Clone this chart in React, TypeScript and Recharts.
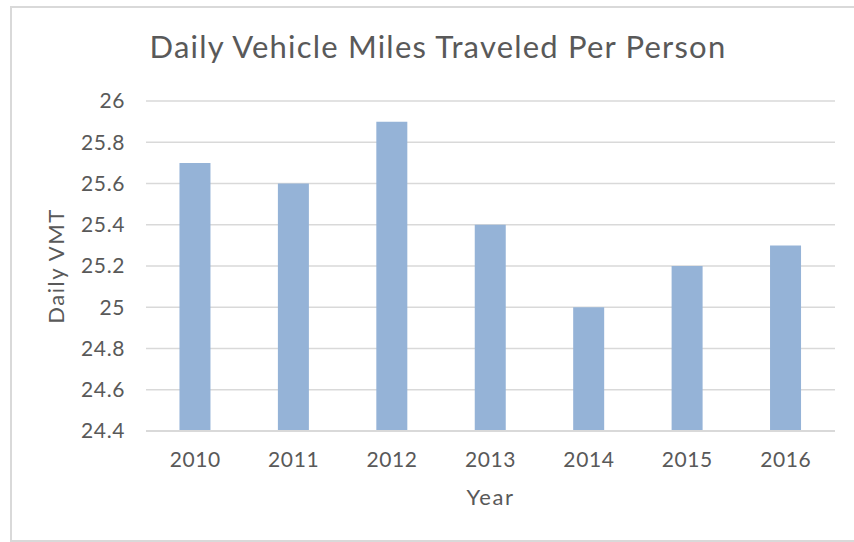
import { BarChart, Bar, XAxis, YAxis, CartesianGrid, Label } from 'recharts'

const years = ['2010', '2011', '2012', '2013', '2014', '2015', '2016']
const dailyVmt = [25.7, 25.6, 25.9, 25.4, 25.0, 25.2, 25.3]
const yTicks = [24.4, 24.6, 24.8, 25, 25.2, 25.4, 25.6, 25.8, 26]

const FONT = 'Lato, "Open Sans", sans-serif'
const TEXT = '#595959'
const GRID = '#d9d9d9'

const data = years.map((y, i) => ({ year: y, vmt: dailyVmt[i] }))

export default function App() {
  return (
    <div style={{ position: 'absolute', left: 0, top: 0, width: 854, height: 542, background: '#fff', overflow: 'hidden' }}>
      <div
        style={{
          position: 'absolute',
          left: 10,
          top: 6,
          width: 900,
          height: 532,
          border: `2px solid ${GRID}`,
        }}
      />
      <svg width={854} height={80} style={{ position: 'absolute', left: 0, top: 0 }}>
        <text x={438} y={58} textAnchor="middle" fontFamily={FONT} fontSize={31} letterSpacing={1.2} fill={TEXT}>
          Daily Vehicle Miles Traveled Per Person
        </text>
      </svg>
      <div style={{ position: 'absolute', left: 0, top: 0 }}>
        <BarChart
          width={854}
          height={542}
          data={data}
          margin={{ top: 101, right: 19, bottom: 31, left: 36 }}
          barCategoryGap="34%"
        >
          <CartesianGrid vertical={false} stroke={GRID} strokeWidth={1.5} />
          <XAxis
            dataKey="year"
            height={80}
            tickSize={0}
            tickMargin={21}
            axisLine={{ stroke: GRID, strokeWidth: 2 }}
            tickLine={false}
            tick={{ fill: TEXT, fontSize: 21, fontFamily: FONT, letterSpacing: 0.6 }}
          >
            <Label value="Year" position="insideBottom" offset={6} fill={TEXT} fontSize={22} fontFamily={FONT} letterSpacing={1.5} />
          </XAxis>
          <YAxis
            width={110}
            domain={[24.4, 26]}
            ticks={yTicks}
            interval={0}
            tickSize={0}
            tickMargin={21}
            axisLine={false}
            tickLine={false}
            tickFormatter={(v: number) => String(Math.round(v * 10) / 10)}
            tick={{ fill: TEXT, fontSize: 21, fontFamily: FONT, letterSpacing: 0.6 }}
          >
            <Label
              value="Daily VMT"
              angle={-90}
              position="insideLeft"
              offset={20}
              textAnchor="middle"
              fill={TEXT}
              fontSize={22}
              fontFamily={FONT}
              letterSpacing={1.5}
            />
          </YAxis>
          <Bar dataKey="vmt" fill="#95b3d7" isAnimationActive={false} />
        </BarChart>
      </div>
    </div>
  )
}
